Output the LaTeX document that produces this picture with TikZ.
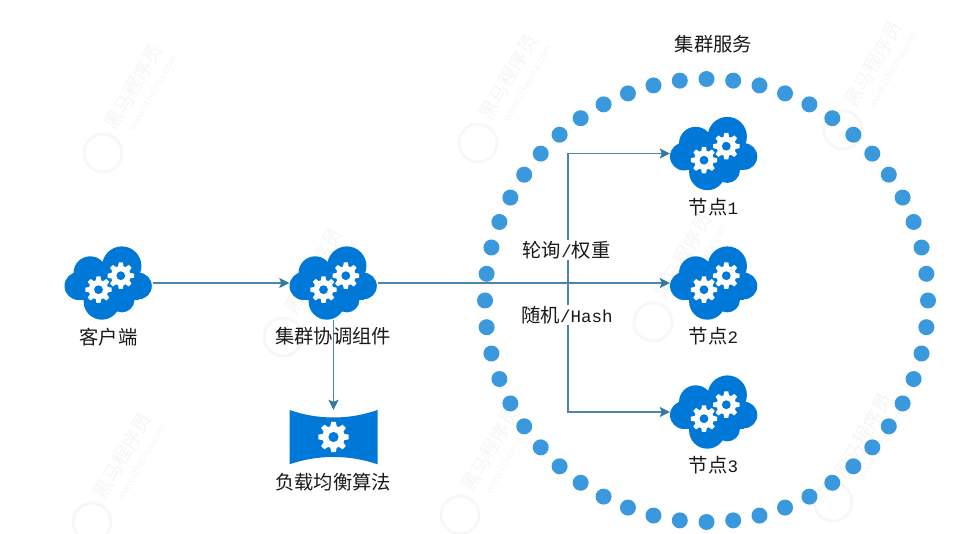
\documentclass[tikz,border=0pt]{standalone}
\usepackage{fontspec}
\setmainfont{Liberation Mono}
\newfontfamily\cjk{Noto Sans CJK SC}
\usetikzlibrary{calc,arrows.meta}
\definecolor{cloudblue}{HTML}{0078D7}
\definecolor{dotblue}{HTML}{3A98DC}
\definecolor{linkblue}{HTML}{4A86AE}
\definecolor{tipblue}{HTML}{35779F}
\newcommand{\lat}[1]{{\fontspec{Liberation Mono}\fontsize{17.5}{20}\selectfont #1}}
\tikzset{cloudbox/.style={minimum width=88pt,minimum height=73pt,inner sep=0pt}}
\tikzset{tagtext/.style={font=\cjk\fontsize{19.3}{21}\selectfont,inner sep=1pt,text=black!90}}
\tikzset{link/.style={draw=linkblue,line width=1.5pt,-{Stealth[length=10pt,width=10pt,inset=2pt,color=tipblue]}}}
\tikzset{gear/.pic={
    \fill[white] (0,0) circle (9.8);
    \foreach \ang in {0,45,...,315}
        \fill[white,rotate=\ang] (-3,8) -- (-2,13.2) -- (2,13.2) -- (3,8) -- cycle;
    \fill[cloudblue] (0,0) circle (4.4);
}}
\tikzset{cloudgear/.pic={
    \fill[cloudblue] (13.3,-17) circle (19.6);
    \fill[cloudblue] (-18.3,-10) circle (16.7);
    \fill[cloudblue] (-30,3) circle (14);
    \fill[cloudblue] (30,3) circle (13.3);
    \fill[cloudblue] (-6.7,18.5) circle (18.2);
    \fill[cloudblue] (13.3,16.7) circle (12.7);
    \fill[cloudblue] (-30,-8) rectangle (30,17);
    \pic at (-10,6.7) {gear};
    \pic at (12.3,-7.3) {gear};
}}
\tikzset{stamp/.pic={
    \draw[black!3,line width=3pt] (0,0) circle (19);
    \node[rotate=60,font=\cjk\fontsize{19}{20}\selectfont,text=black!4] (stampname) at (30,-66) {黑马程序员};
    \node[rotate=60,font=\sffamily\fontsize{12}{13}\selectfont,text=black!4] (stampurl) at (49,-60) {www.itheima.com};
}}
\begin{document}
\begin{tikzpicture}[x=1pt,y=-1pt]
    \useasboundingbox (0,0) rectangle (975,534);
    % faint marks behind everything
    \foreach \sx/\sy in {103/153,478/143,843/130,283/337,653/322,92/522,460/515,833/502}
        \pic at (\sx,\sy) {stamp};
    % ring of dots
    \foreach \i in {0,...,51}
        \fill[dotblue] ($(706.5,300.5)+({90+\i*6.9231}:221.5)$) circle (8);
    % nodes
    \node[cloudbox] (client) at (108.5,283) {};
    \node[cloudbox] (coord) at (333.5,283) {};
    \node[cloudbox] (node1) at (714,153.5) {};
    \node[cloudbox] (node2) at (714,283) {};
    \node[cloudbox] (node3) at (714,412) {};
    \foreach \n in {client,coord,node1,node2,node3}
        \pic at (\n) {cloudgear};
    \node[minimum width=88pt,minimum height=54pt,inner sep=0pt] (algo) at (333.5,437) {};
    \fill[cloudblue] (289.5,410) .. controls (318,420) and (349,420) .. (377.5,410) -- (377.5,464.3)
        .. controls (349,454.5) and (318,454.5) .. (289.5,464.3) -- cycle;
    \pic[scale=1.15] at (algo) {gear};
    % connectors
    \coordinate (hub) at (568,283);
    \draw[link] (client) -- (coord);
    \draw[link] (coord) -- (node2);
    \draw[link] (coord) -- (algo);
    \draw[link] (hub) |- (node1);
    \draw[link] (hub) |- (node3);
    % labels
    \node[tagtext] (clientlabel) at (108.5,337) {客户端};
    \node[tagtext] (coordlabel) at (333,336) {集群协调组件};
    \node[tagtext] (algolabel) at (333,482) {负载均衡算法};
    \node[tagtext] (servicelabel) at (713.5,44) {集群服务};
    \node[tagtext] (node1label) at (713.5,207) {节点\lat{1}};
    \node[tagtext] (node2label) at (713.5,336) {节点\lat{2}};
    \node[tagtext] (node3label) at (713.5,465) {节点\lat{3}};
    \node[tagtext,fill=white] (weightlabel) at (566.5,250) {轮询\lat{/}权重};
    \node[tagtext,fill=white] (hashlabel) at (567,315) {随机\lat{/Hash}};
\end{tikzpicture}
\end{document}
